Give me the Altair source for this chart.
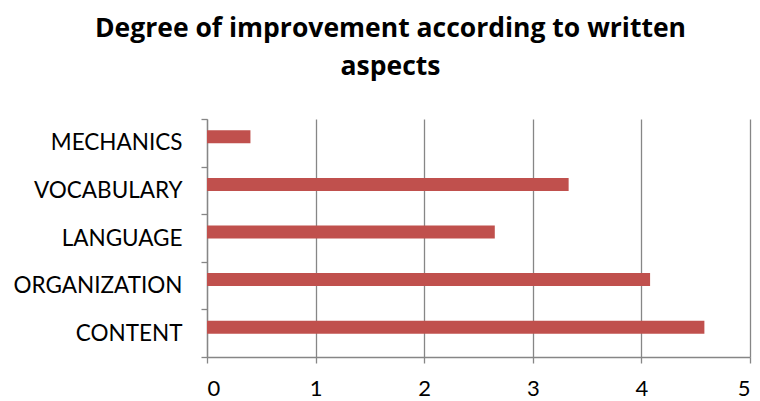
import altair as alt
import pandas as pd

# Written aspects, top to bottom, and their improvement scores
aspects = ["MECHANICS\u00a0", "VOCABULARY", "LANGUAGE", "ORGANIZATION", "CONTENT"]
scores = [0.40, 3.33, 2.65, 4.08, 4.58]
x_ticks = [0, 1, 2, 3, 4, 5]

df = pd.DataFrame({"aspect": aspects, "score": scores})

AXIS_GRAY = "#868686"
FONT = "Lato"

chart = (
    alt.Chart(df)
    .mark_bar(color="#C0504D", size=13, yOffset=-6)
    .encode(
        x=alt.X(
            "score:Q",
            scale=alt.Scale(domain=[0, 5], nice=False),
            axis=alt.Axis(
                values=x_ticks,
                title=None,
                grid=True,
                gridColor=AXIS_GRAY,
                gridWidth=1.3,
                domainColor=AXIS_GRAY,
                domainWidth=1.3,
                tickColor=AXIS_GRAY,
                tickWidth=1.3,
                tickSize=6,
                labelFont=FONT,
                labelFontSize=22,
                labelColor="black",
                labelPadding=15,
            ),
        ),
        y=alt.Y(
            "aspect:N",
            sort=aspects,
            scale=alt.Scale(paddingInner=0, paddingOuter=0),
            axis=alt.Axis(
                title=None,
                grid=False,
                tickBand="extent",
                domainColor=AXIS_GRAY,
                domainWidth=1.3,
                tickColor=AXIS_GRAY,
                tickWidth=1.3,
                tickSize=6,
                labelFont=FONT,
                labelFontSize=22.5,
                labelColor="black",
                labelPadding=19,
            ),
        ),
    )
    .properties(
        width=543,
        height=238,
        title=alt.TitleParams(
            ["Degree of improvement according to written", "aspects"],
            font="Open Sans",
            fontSize=26.5,
            fontWeight="bold",
            color="black",
            anchor="middle",
            dx=-88,
            lineHeight=38,
            offset=28,
        ),
        autosize="none",
        padding={"left": 207, "top": 119, "right": 10, "bottom": 44},
    )
    .configure_view(stroke=None)
)

chart.save("out.html", embed_options={"renderer": "svg", "actions": False})
